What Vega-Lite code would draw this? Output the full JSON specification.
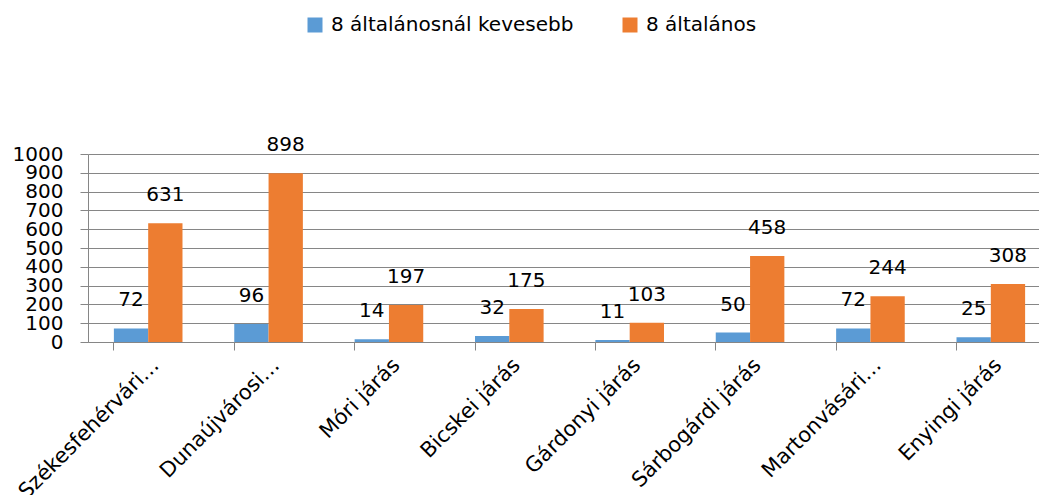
{
  "$schema": "https://vega.github.io/schema/vega-lite/v6.json",
  "width": 951,
  "height": 188,
  "autosize": {"type": "none"},
  "padding": {"left": 88, "top": 154, "right": 0, "bottom": 153},
  "background": "white",
  "config": {
    "font": "DejaVu Sans",
    "view": {"stroke": null},
    "axis": {"domainColor": "#868686", "tickColor": "#868686", "gridColor": "#868686", "labelColor": "#000000", "labelFont": "DejaVu Sans"}
  },
  "data": {
    "values": [
      {"jaras": "Székesfehérvári…", "kat": "8 általánosnál kevesebb", "ertek": 72},
      {"jaras": "Székesfehérvári…", "kat": "8 általános", "ertek": 631},
      {"jaras": "Dunaújvárosi…", "kat": "8 általánosnál kevesebb", "ertek": 96},
      {"jaras": "Dunaújvárosi…", "kat": "8 általános", "ertek": 898},
      {"jaras": "Móri járás", "kat": "8 általánosnál kevesebb", "ertek": 14},
      {"jaras": "Móri járás", "kat": "8 általános", "ertek": 197},
      {"jaras": "Bicskei járás", "kat": "8 általánosnál kevesebb", "ertek": 32},
      {"jaras": "Bicskei járás", "kat": "8 általános", "ertek": 175},
      {"jaras": "Gárdonyi járás", "kat": "8 általánosnál kevesebb", "ertek": 11},
      {"jaras": "Gárdonyi járás", "kat": "8 általános", "ertek": 103},
      {"jaras": "Sárbogárdi járás", "kat": "8 általánosnál kevesebb", "ertek": 50},
      {"jaras": "Sárbogárdi járás", "kat": "8 általános", "ertek": 458},
      {"jaras": "Martonvásári…", "kat": "8 általánosnál kevesebb", "ertek": 72},
      {"jaras": "Martonvásári…", "kat": "8 általános", "ertek": 244},
      {"jaras": "Enyingi járás", "kat": "8 általánosnál kevesebb", "ertek": 25},
      {"jaras": "Enyingi járás", "kat": "8 általános", "ertek": 308}
    ]
  },
  "encoding": {
    "x": {
      "field": "jaras",
      "type": "nominal",
      "sort": null,
      "scale": {"paddingInner": 0.43, "paddingOuter": 0.215, "range": [0, 963]},
      "axis": {
        "title": null,
        "labelAngle": -45,
        "labelFontSize": 21,
        "labelPadding": 4,
        "labelLimit": 400,
        "labelBound": false,
        "labelOverlap": false,
        "tickSize": 8,
        "bandPosition": 0,
        "grid": false
      }
    },
    "xOffset": {"field": "kat", "type": "nominal", "sort": ["8 általánosnál kevesebb", "8 általános"]},
    "y": {
      "field": "ertek",
      "type": "quantitative",
      "scale": {"domain": [0, 1000], "nice": false},
      "axis": {
        "title": null,
        "values": [0, 100, 200, 300, 400, 500, 600, 700, 800, 900, 1000],
        "format": "d",
        "labelFontSize": 20,
        "labelPadding": 17,
        "tickSize": 8,
        "grid": true,
        "labelOverlap": false,
        "labelBound": false,
        "labelFlush": false
      }
    }
  },
  "layer": [
    {
      "mark": {"type": "bar"},
      "encoding": {
        "color": {
          "field": "kat",
          "type": "nominal",
          "sort": ["8 általánosnál kevesebb", "8 általános"],
          "scale": {"domain": ["8 általánosnál kevesebb", "8 általános"], "range": ["#5B9BD5", "#ED7D31"]},
          "legend": {
            "title": null,
            "orient": "none",
            "legendX": 217,
            "legendY": -139,
            "direction": "horizontal",
            "symbolType": "square",
            "symbolSize": 225,
            "symbolStrokeWidth": 0,
            "labelFontSize": 20,
            "labelFont": "DejaVu Sans",
            "labelColor": "#000000",
            "labelOffset": 6,
            "columnPadding": 46,
            "labelLimit": 400
          }
        }
      }
    },
    {
      "mark": {"type": "text", "dy": -28, "fontSize": 20, "baseline": "middle", "color": "#000000"},
      "encoding": {"text": {"field": "ertek", "type": "quantitative"}}
    }
  ]
}
